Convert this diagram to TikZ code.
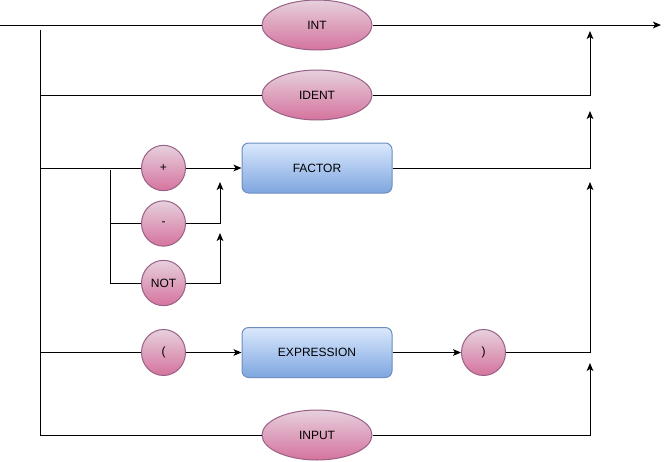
\documentclass[tikz,border=0pt]{standalone}
\usepackage{fontspec}
\setmainfont{Liberation Sans}
\usetikzlibrary{shapes.geometric}
\usetikzlibrary{arrows.meta}

\definecolor{tokentop}{RGB}{230,208,222}
\definecolor{tokenbot}{RGB}{213,115,157}
\definecolor{tokenline}{RGB}{153,97,133}
\definecolor{ruletop}{RGB}{218,232,252}
\definecolor{rulebot}{RGB}{126,166,224}
\definecolor{ruleline}{RGB}{108,142,191}

\tikzset{
  token/.style={ellipse, draw=tokenline, top color=tokentop, bottom color=tokenbot, inner sep=0pt, font=\fontsize{9}{10}\selectfont},
  rulebox/.style={rectangle, rounded corners=5pt, draw=ruleline, top color=ruletop, bottom color=rulebot, minimum width=112.5pt, minimum height=37.5pt, font=\fontsize{9}{10}\selectfont},
  flow/.style={-{Stealth[length=6pt,width=5pt,inset=1.5pt]}}
}

\begin{document}
\begin{tikzpicture}[x=0.75pt,y=0.75pt,yscale=-1,xscale=1,line width=0.75pt]
\useasboundingbox (0,0) rectangle (670,461);

%Shape: Ellipse [INT]
\node [token, minimum width=82.5pt, minimum height=37.5pt] (int) at (317,25) {INT};
%Shape: Ellipse [IDENT]
\node [token, minimum width=82.5pt, minimum height=37.5pt] (ident) at (317,95) {IDENT};
%Shape: Circle [+]
\node [token, minimum width=33pt, minimum height=34pt] (plus) at (163.5,168) {+};
%Shape: Circle [-]
\node [token, minimum width=33pt, minimum height=34pt] (minus) at (163.5,223.5) {-};
%Shape: Circle [NOT]
\node [token, minimum width=33pt, minimum height=34pt] (notop) at (163.5,283) {NOT};
%Shape: Rectangle [FACTOR]
\node [rulebox] (factor) at (317,168) {FACTOR};
%Shape: Ellipse [(]
\node [token, minimum width=33pt, minimum height=34.5pt] (lpar) at (163.5,352.5) {(};
%Shape: Rectangle [EXPRESSION]
\node [rulebox] (expr) at (317,352.5) {EXPRESSION};
%Shape: Ellipse [)]
\node [token, minimum width=33pt, minimum height=34.5pt] (rpar) at (483.5,352.5) {)};
%Shape: Ellipse [INPUT]
\node [token, minimum width=82.5pt, minimum height=37.5pt] (input) at (317,435) {INPUT};

% Rail points
\coordinate (start) at (0,25);
\coordinate (finish) at (661,25);
\coordinate (railtop) at (40,30);
\coordinate (railbot) at (40,435);
\coordinate (j2) at (40,95);
\coordinate (j3) at (40,168);
\coordinate (j4) at (40,352.5);
\coordinate (subtop) at (110,170);
\coordinate (subbot) at (110,283);
\coordinate (submid) at (110,223.5);
\coordinate (tip2) at (590,31);
\coordinate (tip3) at (590,111);
\coordinate (tip4) at (590,182);
\coordinate (tip5) at (590,363);
\coordinate (tipm) at (220,182);
\coordinate (tipn) at (220,233);

%Straight Lines [main]
\draw [flow] (start) -- (int) -- (finish);
%Straight Lines [left rail]
\draw (railtop) -- (railbot) -- (input);
\draw [flow] (input) -| (tip5);

%Straight Lines [IDENT]
\draw (j2) -- (ident);
\draw [flow] (ident) -| (tip2);

%Straight Lines [FACTOR]
\draw (j3) -- (plus);
\draw [flow] (plus) -- (factor);
\draw [flow] (factor) -| (tip3);
\draw (subtop) -- (subbot) -- (notop);
\draw (submid) -- (minus);
\draw [flow] (minus) -| (tipm);
\draw [flow] (notop) -| (tipn);

%Straight Lines [EXPRESSION]
\draw (j4) -- (lpar);
\draw [flow] (lpar) -- (expr);
\draw [flow] (expr) -- (rpar);
\draw [flow] (rpar) -| (tip4);

\end{tikzpicture}
\end{document}
